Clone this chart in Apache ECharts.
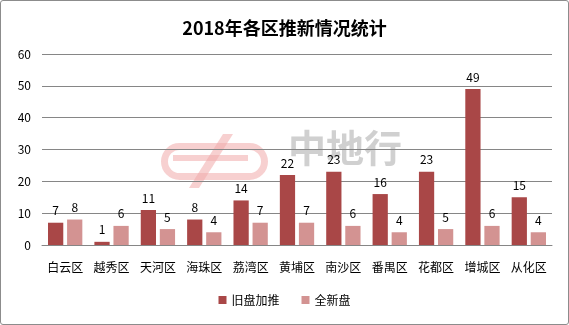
<!DOCTYPE html>
<html><head><meta charset="utf-8">
<script src="https://cdn.jsdelivr.net/npm/echarts@6/dist/echarts.min.js"></script>
<style>
html,body{margin:0;padding:0;background:#fff;}
#c{position:absolute;left:0;top:0;width:567px;height:323px;border:1px solid #8c8c8c;border-radius:3px;}
</style></head>
<body><div id="c"></div>
<script>
const categories = ['白云区','越秀区','天河区','海珠区','荔湾区','黄埔区','南沙区','番禺区','花都区','增城区','从化区'];
const oldPush = [7,1,11,8,14,22,23,16,23,49,15];
const brandNew = [8,6,5,4,7,7,6,4,5,6,4];
const seriesNames = ['旧盘加推','全新盘'];
const yTicks = {min:0,max:60,interval:10};

const chart = echarts.init(document.getElementById('c'));
const font = '"Noto Sans CJK SC", "Noto Sans", sans-serif';
chart.setOption({
  animation:false,
  textStyle:{fontFamily:font},
  title:{text:'2018年各区推新情况统计',left:'center',top:13,
    textStyle:{fontSize:18,fontWeight:'bold',color:'#000',fontFamily:font}},
  graphic:[
    {type:'text',left:287,top:128,z:-10,silent:true,
      style:{text:'中地行',fontSize:38,fontWeight:'bold',fill:'rgba(170,170,170,0.55)',fontFamily:font}},
    {type:'rect',left:160,top:142,z:-10,silent:true,
      shape:{width:100,height:30,r:15},style:{fill:'none',stroke:'rgba(240,170,170,0.55)',lineWidth:7}},
    {type:'polygon',z:-10,silent:true,
      shape:{points:[[222,133],[232,133],[198,187],[188,187]]},style:{fill:'rgba(240,170,170,0.55)'}},
    {type:'rect',left:172,top:154,z:-10,silent:true,
      shape:{width:75,height:6},style:{fill:'rgba(240,170,170,0.55)'}}
  ],
  legend:{bottom:13,left:'center',itemWidth:8,itemHeight:8,itemGap:22,icon:'rect',
    textStyle:{fontSize:12,color:'#000',fontFamily:font},data:seriesNames},
  grid:{left:41,right:16,top:53,bottom:79},
  xAxis:{type:'category',data:categories,
    axisLine:{lineStyle:{color:'#868686'}},axisTick:{show:false},
    axisLabel:{color:'#000',fontSize:12,margin:16,interval:0,fontFamily:font}},
  yAxis:{type:'value',min:yTicks.min,max:yTicks.max,interval:yTicks.interval,
    axisLine:{show:false},axisTick:{show:false},
    axisLabel:{color:'#000',fontSize:12,margin:11,fontFamily:font},
    splitLine:{lineStyle:{color:'#868686',width:1}}},
  series:[
    {name:seriesNames[0],type:'bar',data:oldPush,barGap:'25%',barCategoryGap:'26%',
      itemStyle:{color:'#A94747'},
      label:{show:true,position:'top',distance:6,color:'#000',fontSize:12,fontFamily:font}},
    {name:seriesNames[1],type:'bar',data:brandNew,
      itemStyle:{color:'#D39392'},
      label:{show:true,position:'top',distance:6,color:'#000',fontSize:12,fontFamily:font}}
  ]
});
</script></body></html>
